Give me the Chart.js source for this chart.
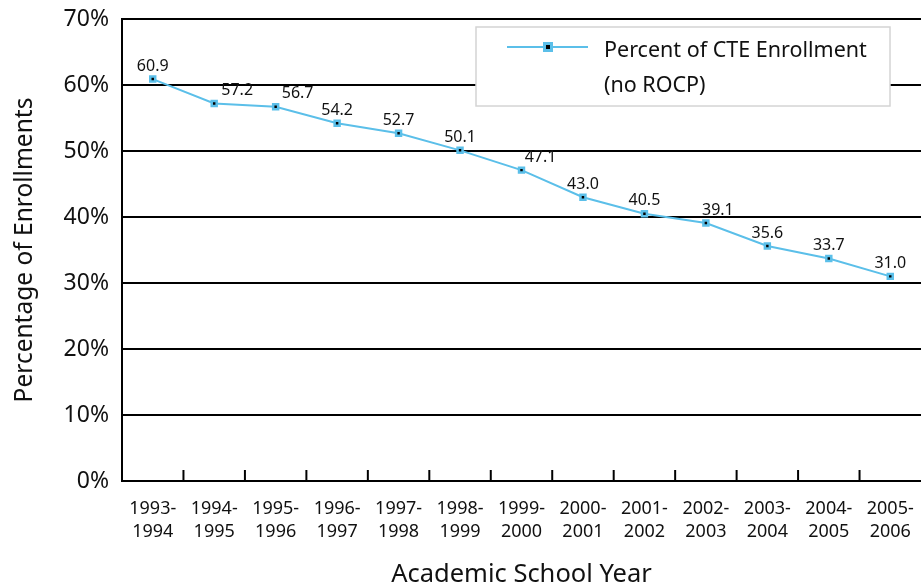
<!DOCTYPE html>
<html>
<head>
<meta charset="utf-8">
<script src="https://cdn.jsdelivr.net/npm/chart.js@4/dist/chart.umd.min.js"></script>
<style>
  html, body { margin: 0; padding: 0; background: #fff; }
  #wrap { width: 921px; height: 587px; }
</style>
</head>
<body>
<div id="wrap"><canvas id="graphic" width="921" height="587"></canvas></div>
<script>
const years = [
    ['1993-', '1994'], ['1994-', '1995'], ['1995-', '1996'], ['1996-', '1997'],
    ['1997-', '1998'], ['1998-', '1999'], ['1999-', '2000'], ['2000-', '2001'],
    ['2001-', '2002'], ['2002-', '2003'], ['2003-', '2004'], ['2004-', '2005'],
    ['2005-', '2006']
];
const percentCTE = [60.9, 57.2, 56.7, 54.2, 52.7, 50.1, 47.1, 43.0, 40.5, 39.1, 35.6, 33.7, 31.0];
const yTicks = [0, 10, 20, 30, 40, 50, 60, 70];
const seriesName = ['Percent of CTE Enrollment', '(no ROCP)'];

// how far each value label is nudged to the right of its point
const labelNudge = [0, 23, 22, 0, 0, 0, 19, 0, 0, 12, 0, 0, 0];

const FONT = '"Noto Sans", sans-serif';
const BLUE = '#5bbfe9';

const ctx = document.getElementById('graphic');

// value labels above points
const valueLabels = {
    id: 'valueLabels',
    afterDatasetsDraw(chart) {
        const c = chart.ctx;
        const meta = chart.getDatasetMeta(0);
        c.save();
        c.font = '16px ' + FONT;
        c.fillStyle = '#111';
        c.textAlign = 'center';
        c.textBaseline = 'bottom';
        meta.data.forEach((pt, i) => {
            c.fillText(percentCTE[i].toFixed(1), pt.x + labelNudge[i], pt.y - 5);
        });
        c.restore();
    }
};

// small tick marks between categories, pointing up into the plot
const innerTicks = {
    id: 'innerTicks',
    afterDraw(chart) {
        const x = chart.scales.x;
        const c = chart.ctx;
        const bottom = chart.chartArea.bottom;
        c.save();
        c.strokeStyle = '#000';
        c.lineWidth = 2;
        for (let i = 0; i < years.length - 1; i++) {
            const px = (x.getPixelForValue(i) + x.getPixelForValue(i + 1)) / 2;
            c.beginPath();
            c.moveTo(px, bottom);
            c.lineTo(px, bottom - 11);
            c.stroke();
        }
        c.restore();
    }
};

// boxed legend with two-line label
const boxLegend = {
    id: 'boxLegend',
    afterDraw(chart) {
        const c = chart.ctx;
        c.save();
        c.fillStyle = '#fff';
        c.fillRect(476, 27, 414, 79);
        c.strokeStyle = '#d4d4d4';
        c.lineWidth = 1.5;
        c.strokeRect(476, 27, 414, 79);
        c.strokeStyle = BLUE;
        c.lineWidth = 2;
        c.beginPath();
        c.moveTo(507, 47);
        c.lineTo(588, 47);
        c.stroke();
        c.fillStyle = BLUE;
        c.fillRect(543, 42, 10, 10);
        c.fillStyle = '#000';
        c.fillRect(546, 45, 4, 4);
        c.font = '21.5px ' + FONT;
        c.fillStyle = '#111';
        c.textBaseline = 'middle';
        c.fillText(seriesName[0], 604, 51);
        c.fillText(seriesName[1], 604, 86);
        c.restore();
    }
};

new Chart(ctx, {
    type: 'line',
    data: {
        labels: years,
        datasets: [{
            label: seriesName.join(' '),
            data: percentCTE,
            borderColor: BLUE,
            borderWidth: 2,
            backgroundColor: '#000',
            pointStyle: 'rect',
            pointRadius: 3.5,
            pointBorderWidth: 2.5,
            pointBorderColor: BLUE,
            pointBackgroundColor: '#000',
            tension: 0,
            fill: false
        }]
    },
    options: {
        responsive: false,
        animation: false,
        layout: { autoPadding: false, padding: { top: 19, right: 0, left: 10, bottom: 0 } },
        plugins: {
            legend: { display: false },
            tooltip: { enabled: false }
        },
        scales: {
            x: {
                offset: true,
                grid: { display: false, drawTicks: false },
                border: { color: '#000', width: 2 },
                afterFit(scale) {
                    scale.height = 106;
                    scale.paddingLeft = 0;
                    scale.paddingRight = 0;
                },
                ticks: {
                    color: '#111',
                    font: { family: FONT, size: 18, lineHeight: 1.3 },
                    padding: 16,
                    maxRotation: 0,
                    autoSkip: false
                },
                title: {
                    display: true,
                    text: 'Academic School Year',
                    color: '#111',
                    font: { family: FONT, size: 25.5, lineHeight: 1 },
                    padding: { top: 10, bottom: 0 }
                }
            },
            y: {
                min: 0,
                max: 70,
                afterBuildTicks(scale) {
                    scale.ticks = yTicks.map(v => ({ value: v }));
                },
                afterFit(scale) {
                    scale.width = 112;
                    scale.paddingTop = 0;
                    scale.paddingBottom = 0;
                },
                grid: {
                    color: '#000',
                    lineWidth: 2,
                    drawTicks: false
                },
                border: { color: '#000', width: 2 },
                ticks: {
                    color: '#111',
                    font: { family: FONT, size: 23 },
                    padding: 13,
                    callback: v => v + '%'
                },
                title: {
                    display: true,
                    text: 'Percentage of Enrollments',
                    color: '#111',
                    font: { family: FONT, size: 24.5 },
                    padding: { top: 0, bottom: 0 }
                }
            }
        }
    },
    plugins: [valueLabels, innerTicks, boxLegend]
});
</script>
</body>
</html>
